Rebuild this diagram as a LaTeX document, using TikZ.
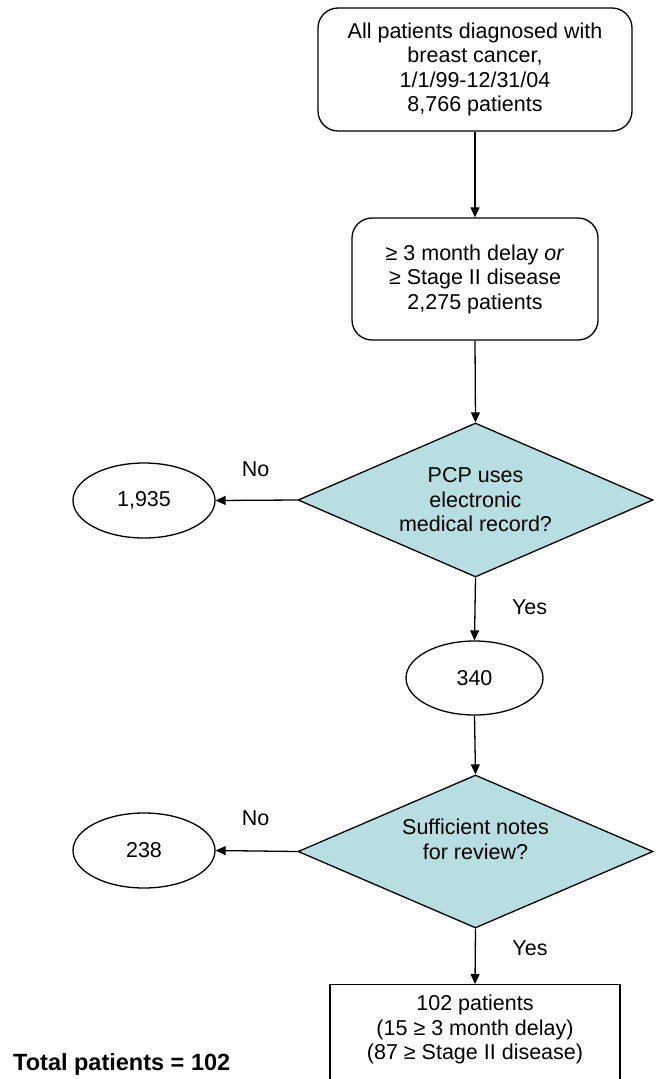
\documentclass[tikz,border=0pt]{standalone}
\usepackage{fontspec}
\setmainfont{Liberation Sans}
\usetikzlibrary{shapes.geometric,arrows.meta}
\definecolor{dteal}{RGB}{183,222,225}
\tikzset{
  every node/.style={font=\fontsize{21.5}{24.5}\selectfont, align=center, inner sep=0pt},
  rbox/.style={draw, rounded corners=20pt, line width=1.3pt},
  sbox/.style={draw, line width=1.3pt},
  dia/.style={draw, diamond, aspect=2.3, fill=dteal, line width=1.3pt},
  ell/.style={draw, ellipse, line width=1.3pt},
  arr/.style={-{Triangle[length=10pt,width=9pt]}, line width=1.3pt},
  lbl/.style={inner sep=0pt}
}
\begin{document}
\begin{tikzpicture}[x=1pt,y=-1pt]
\useasboundingbox (0,0) rectangle (658,1079);
\node[rbox, minimum width=314pt, minimum height=123pt] (a) at (475,69.5)
  {All patients diagnosed with\\breast cancer,\\1/1/99-12/31/04\\8,766 patients};
\node[rbox, minimum width=246pt, minimum height=122pt] (b) at (475,279)
  {≥ 3 month delay \textit{or}\\≥ Stage II disease\\2,275 patients};
\node[dia, minimum width=355pt, minimum height=154pt] (c) at (475.5,500)
  {PCP uses\\electronic\\medical record?};
\node[ell, minimum width=142pt, minimum height=75pt] (d) at (144,500.5) {1,935};
\node[ell, minimum width=137pt, minimum height=74pt] (e) at (474.5,678) {340};
\node[dia, minimum width=355pt, minimum height=153pt] (f) at (475.5,851.5)
  {Sufficient notes\\for review?\\\mbox{}};
\node[ell, minimum width=142pt, minimum height=75pt] (g) at (144,850.5) {238};
\node[sbox, minimum width=290pt, minimum height=110pt, anchor=north] (h) at (475,984)
  {102 patients\\(15 ≥ 3 month delay)\\(87 ≥ Stage II disease)\\\mbox{}};
\node[lbl, font=\bfseries\fontsize{23.5}{27}\selectfont, anchor=base west] (t) at (13,1070) {Total patients = 102};
\draw[arr] (a.south) -- (b.north);
\draw[arr] (b.south) -- (c.north);
\draw[arr] (c.west) -- node[lbl, pos=0.51, above=23pt] {No} (d.east);
\draw[arr] (c.south) -- node[lbl, pos=0.594, anchor=base west, xshift=36.5pt] {Yes} (e.north);
\draw[arr] (e.south) -- (f.north);
\draw[arr] (f.west) -- node[lbl, pos=0.51, above=24.5pt] {No} (g.east);
\draw[arr] (f.south) -- node[lbl, pos=0.482, anchor=base west, xshift=36.5pt] {Yes} (h.north);
\end{tikzpicture}
\end{document}
